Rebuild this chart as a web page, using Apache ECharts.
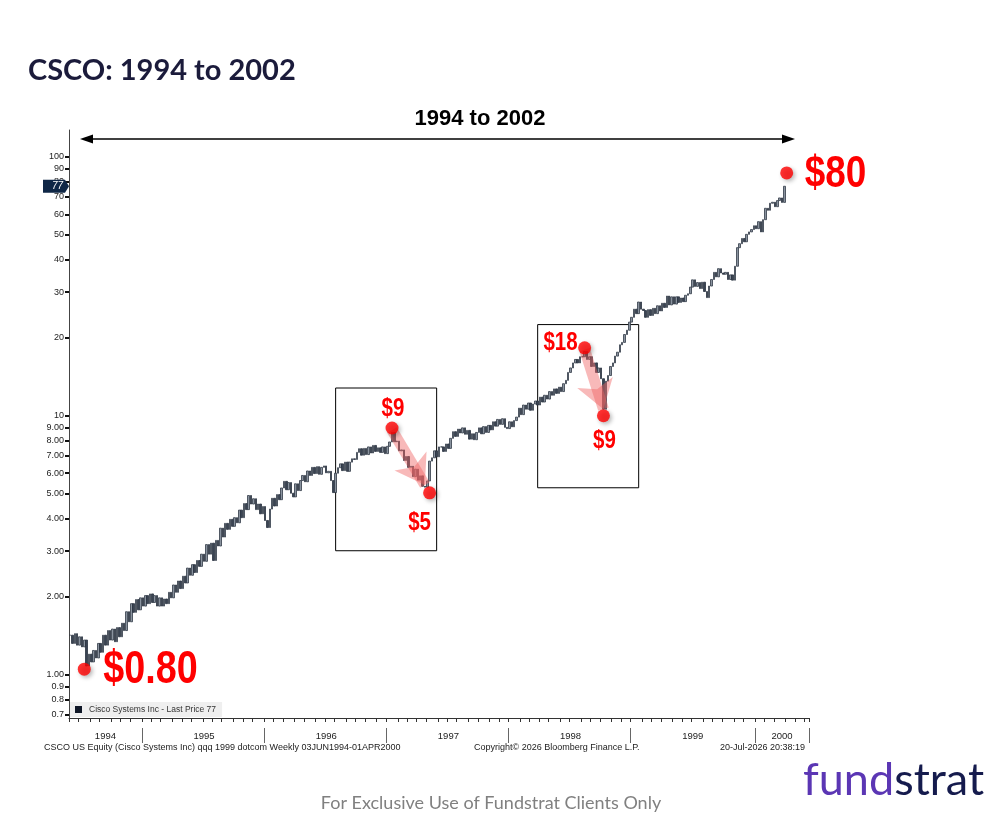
<!DOCTYPE html>
<html><head><meta charset="utf-8">
<script src="https://cdn.jsdelivr.net/npm/echarts@6/dist/echarts.min.js"></script>
<style>html,body{margin:0;padding:0;background:#fff}#c{width:1000px;height:823px}</style>
</head><body><div id="c"></div>
<script>
// ---- data ----
const startDate = '1994-06-03';     // first weekly bar
const axisWeeks = 315;              // axis extends a little past the last bar
const closes = [
1.42,1.32,1.44,1.30,1.40,1.28,1.36,1.08,1.20,1.12,1.24,
1.16,1.32,1.22,1.42,1.30,1.48,1.36,1.50,1.34,1.52,
1.40,1.58,1.48,1.75,1.60,1.88,1.74,1.95,1.78,1.98,
1.84,2.02,1.88,2.05,1.90,2.02,1.84,1.98,1.84,1.96,
1.88,2.08,1.98,2.22,2.08,2.30,2.15,2.40,2.26,2.58,
2.42,2.66,2.48,2.76,2.62,2.92,2.74,3.18,2.92,3.22,
2.76,3.30,3.14,3.68,3.40,3.84,3.64,3.98,3.74,4.04,
3.86,4.32,4.04,4.58,4.34,4.92,4.56,4.78,4.34,4.56,
4.18,4.46,3.94,3.70,4.36,4.80,4.48,4.96,4.74,5.26,
5.58,5.18,5.52,5.02,4.86,5.46,5.14,5.62,5.88,5.56,
6.12,5.88,6.32,5.98,6.36,5.94,6.32,6.40,6.02,6.10,
5.62,5.05,6.00,6.30,6.52,6.14,6.62,6.10,6.62,6.82,
6.78,7.22,7.46,7.04,7.48,7.08,7.58,7.18,7.68,7.28,
7.52,7.22,7.58,7.14,7.62,7.92,8.62,7.94,7.98,7.32,
7.38,6.72,6.96,6.32,6.38,5.82,6.22,5.64,5.86,5.34,
5.30,5.60,6.68,6.88,7.32,6.94,7.58,7.58,7.28,7.78,
7.48,8.18,8.68,8.32,8.88,8.58,8.98,8.48,8.78,8.12,
8.52,8.08,8.62,8.98,8.52,9.08,8.62,9.18,8.82,9.48,
9.12,9.68,9.26,9.74,9.02,8.92,9.48,9.06,9.58,9.88,
10.7,10.1,11.0,10.6,11.2,10.5,11.1,11.4,11.0,11.8,
11.3,12.0,11.6,12.4,12.0,12.7,12.2,12.9,12.4,13.3,
13.7,14.7,15.3,16.0,16.5,16.0,16.9,16.9,17.7,16.5,
16.9,15.5,16.0,14.7,15.3,13.9,10.6,13.6,14.3,15.5,
16.0,17.0,17.6,18.8,19.2,20.6,21.4,23.0,24.0,25.8,
24.8,27.5,25.8,25.5,24.0,25.7,24.4,26.0,24.8,26.6,
25.4,27.2,26.2,29.0,26.8,28.8,27.0,28.8,27.4,28.5,
27.6,29.2,29.6,31.4,33.5,31.6,32.7,31.0,32.8,30.2,
28.6,31.7,33.6,35.8,34.4,37.0,35.6,35.2,35.8,33.6,
35.0,33.4,37.8,44.6,46.2,48.4,47.0,50.2,51.3,52.4,
54.2,52.8,56.2,51.3,57.2,63.3,62.2,66.2,66.8,64.2,
67.8,69.4,66.7,77.0
];
const yearLabels = ['1994','1995','1996','1997','1998','1999','2000'];
const yTicks = [0.7,0.8,0.9,1,2,3,4,5,6,7,8,9,10,20,30,40,50,60,70,80,90,100];
const lastPrice = 77;
// annotated points: [week index, value, label]
const callouts = [
  [6, 1.05, '$0.80'],
  [137, 8.97, '$9'],
  [153, 5.04, '$5'],
  [219, 18.3, '$18'],
  [227, 10.0, '$9'],
  [305, 86.7, '$80']
];
// arrows: [fromWeek, fromVal, toWeek, toVal]
const arrows = [[137, 8.8, 151, 5.4], [219, 18.0, 227, 10.6]];
// boxes: [week1, valTop, week2, valBottom]
const boxes = [[113, 12.8, 156, 3.01], [199, 22.5, 241.5, 5.27]];

// ---- build ----
const cats = [];
const d0 = new Date(startDate + 'T00:00:00Z');
for (let i = 0; i < axisWeeks; i++) {
  const d = new Date(d0.getTime() + i * 7 * 86400000);
  cats.push(d.toISOString().slice(0, 10));
}
const ohlc = closes.map((c, i) => {
  const o = i === 0 ? c : closes[i - 1];
  return [o, c, Math.min(o, c), Math.max(o, c)];
});
const monthStart = new Set(), yearStart = [];
cats.forEach((d, i) => {
  if (i === 0 || d.slice(5, 7) !== cats[i - 1].slice(5, 7)) monthStart.add(i);
  if (i > 0 && d.slice(0, 4) !== cats[i - 1].slice(0, 4)) yearStart.push(i);
});
const yearStartSet = new Set(yearStart);
const labelIdx = new Set();
const bounds = [0].concat(yearStart, [axisWeeks]);
for (let k = 0; k < bounds.length - 1; k++) labelIdx.add(Math.floor((bounds[k] + bounds[k + 1]) / 2));

const RED = '#ff0000';
const boldFont = s => 'bold ' + s + 'px "Liberation Sans", Arial, sans-serif';
// label placement relative to each callout dot: [dx, dy, align, size]
const labelPlace = [
  [19, 1, 'left', 46],
  [1, -19, 'center', 25],
  [-10, 30, 'center', 25],
  [-7, -5, 'right', 25],
  [1, 25, 'center', 25],
  [18, 2, 'left', 45]
];

const chart = echarts.init(document.getElementById('c'), null, {renderer: 'canvas'});
const option = {
  animation: false,
  backgroundColor: '#ffffff',
  title: {
    text: 'CSCO: 1994 to 2002', left: 23, top: 51,
    textStyle: {fontFamily: 'Lato, sans-serif', fontWeight: 'bold', fontSize: 29, color: '#1b1b3b'}
  },
  legend: {
    left: 70, top: 702, padding: [3, 6, 3, 5], itemGap: 4,
    backgroundColor: '#efefef', borderRadius: 0,
    itemWidth: 7, itemHeight: 7, icon: 'rect',
    data: [{name: 'Cisco Systems Inc', icon: 'rect', itemStyle: {color: '#101828', borderWidth: 0}}],
    formatter: n => n + ' - Last Price ' + lastPrice,
    textStyle: {fontSize: 8.5, color: '#333', fontFamily: 'Liberation Sans, Arial, sans-serif', padding: [0, 0, 0, 2]}
  },
  grid: {left: 69, right: 191, top: 130, bottom: 105, containLabel: false, outerBoundsMode: 'none'},
  xAxis: [{
    type: 'category', data: cats, boundaryGap: true,
    axisLine: {show: true, lineStyle: {color: '#333', width: 1}},
    axisTick: {show: true, length: 4, interval: i => monthStart.has(i), lineStyle: {color: '#333'}},
    axisLabel: {show: true, interval: i => labelIdx.has(i), formatter: v => yearLabels[yearLabels.indexOf(v.slice(0, 4))],
      fontSize: 9.5, color: '#222', margin: 13, fontFamily: 'Liberation Sans, Arial, sans-serif'},
    splitLine: {show: false}
  }, {
    type: 'category', data: cats, boundaryGap: true, position: 'bottom', offset: 10,
    axisLine: {show: false},
    axisTick: {show: true, length: 15, interval: i => yearStartSet.has(i), lineStyle: {color: '#666'}},
    axisLabel: {show: false}, splitLine: {show: false}
  }],
  yAxis: {
    type: 'log', logBase: 10, min: 0.68, max: 127,
    axisLine: {show: true, lineStyle: {color: '#444', width: 1}},
    axisTick: {show: true, length: 4, customValues: yTicks, lineStyle: {color: '#111', width: 2}},
    axisLabel: {show: true, customValues: yTicks, fontSize: 9, color: '#222', margin: 5,
      fontFamily: 'Liberation Sans, Arial, sans-serif',
      formatter: v => v < 1 ? v.toFixed(1) : (v < 10 ? v.toFixed(2) : String(Math.round(v)))},
    splitLine: {show: false}, minorTick: {show: false}
  },
  series: [{
    name: 'Cisco Systems Inc', type: 'candlestick', data: ohlc, barWidth: 2,
    itemStyle: {color: '#8a939f', color0: '#3a4453', borderColor: '#323b48', borderColor0: '#2a3240', borderWidth: 0.8},
    emphasis: {disabled: true},
    markArea: {
      silent: true,
      itemStyle: {color: 'rgba(0,0,0,0)', borderColor: '#000', borderWidth: 1},
      data: boxes.map(b => [{coord: [b[0], b[1]]}, {coord: [b[2], b[3]]}])
    },
    markLine: {
      silent: true, symbol: ['none', 'arrow'], symbolSize: [28, 28],
      label: {show: false},
      lineStyle: {color: 'rgba(240,100,100,0.45)', width: 11, type: 'solid'},
      data: arrows.map(a => [{coord: [a[0], a[1]]}, {coord: [a[2], a[3]]}])
    }
  }, {
    name: 'callouts', type: 'scatter', data: callouts.map(p => [p[0], p[1]]), symbolSize: 13, z: 5,
    itemStyle: {color: RED, shadowBlur: 4, shadowColor: 'rgba(0,0,0,0.35)', shadowOffsetX: 2, shadowOffsetY: 2},
    emphasis: {disabled: true}
  }],
  graphic: [
    {type: 'line', shape: {x1: 86, y1: 139, x2: 789, y2: 139}, style: {stroke: '#000', lineWidth: 1.5}},
    {type: 'polygon', shape: {points: [[80, 139], [93, 134.5], [93, 143.5]]}, style: {fill: '#000'}},
    {type: 'polygon', shape: {points: [[795, 139], [782, 134.5], [782, 143.5]]}, style: {fill: '#000'}},
    {type: 'text', x: 480, y: 119, style: {text: '1994 to 2002', fill: '#000', font: 'bold 22px "Liberation Sans", Arial, sans-serif', textAlign: 'center', textVerticalAlign: 'middle'}},
    {type: 'text', x: 44, y: 748, style: {text: 'CSCO US Equity (Cisco Systems Inc) qqq 1999 dotcom Weekly 03JUN1994-01APR2000', fill: '#222', font: '9px "Liberation Sans", Arial, sans-serif', textVerticalAlign: 'middle'}},
    {type: 'text', x: 474, y: 748, style: {text: 'Copyright\u00a9 2026 Bloomberg Finance L.P.', fill: '#222', font: '9px "Liberation Sans", Arial, sans-serif', textVerticalAlign: 'middle'}},
    {type: 'text', x: 805, y: 748, style: {text: '20-Jul-2026 20:38:19', fill: '#222', font: '9px "Liberation Sans", Arial, sans-serif', textAlign: 'right', textVerticalAlign: 'middle'}},
    {type: 'text', x: 491, y: 803, style: {text: 'For Exclusive Use of Fundstrat Clients Only', fill: '#808080', font: '18px Lato, sans-serif', textAlign: 'center', textVerticalAlign: 'middle'}},
    {type: 'text', x: 803, y: 803, style: {text: '{a|fund}{b|strat}', textVerticalAlign: 'bottom', font: '45px Lato, sans-serif',
      rich: {a: {fill: '#5b36b4', font: '45px Lato, sans-serif'}, b: {fill: '#151b4d', font: '45px Lato, sans-serif'}}}}
  ]
};
chart.setOption(option);
// last-price tag on the y axis and red call-out labels, placed from the data via the axes
const ty = chart.convertToPixel({yAxisIndex: 0}, lastPrice);
const extra = [
  {type: 'polygon', z: 10, shape: {points: [[43, ty - 6.5], [65, ty - 6.5], [69, ty], [65, ty + 6.5], [43, ty + 6.5]]}, style: {fill: '#0f2746'}},
  {type: 'text', z: 11, x: 63, y: ty, style: {text: String(lastPrice), fill: '#fff', font: 'italic 10px "Liberation Sans", Arial, sans-serif', textAlign: 'right', textVerticalAlign: 'middle'}}
];
callouts.forEach((p, k) => {
  const px = chart.convertToPixel({gridIndex: 0}, [p[0], p[1]]);
  const pl = labelPlace[k];
  extra.push({type: 'text', z: 20, x: px[0] + pl[0], y: px[1] + pl[1], scaleX: 0.82,
    style: {text: p[2], fill: RED, font: boldFont(pl[3]), textAlign: pl[2], textVerticalAlign: 'middle'}});
});
chart.setOption({graphic: option.graphic.concat(extra)});
</script></body></html>
